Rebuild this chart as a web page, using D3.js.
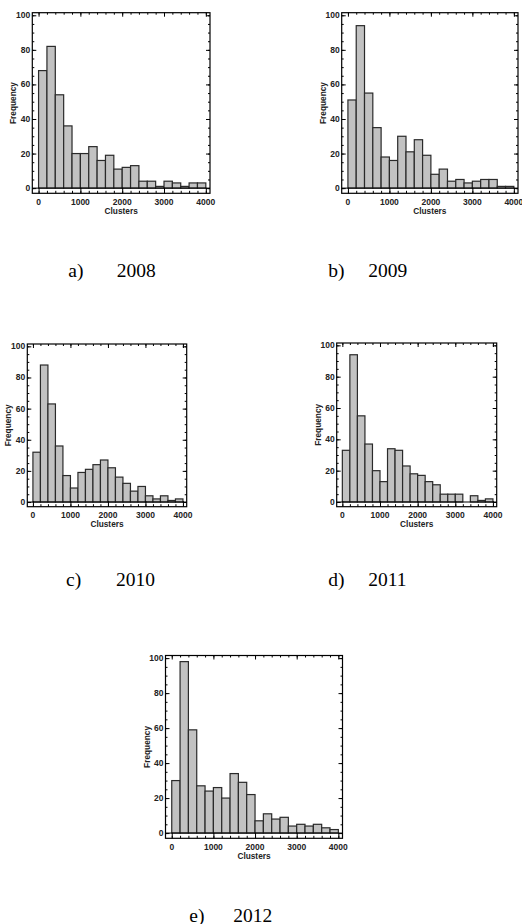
<!DOCTYPE html>
<html>
<head>
<meta charset="utf-8">
<script src="https://cdn.jsdelivr.net/npm/d3@7"></script>
<style>
  html, body { margin: 0; padding: 0; background: #fff; }
  svg { display: block; }
</style>
</head>
<body>
<svg id="chart" width="522" height="924"></svg>
<script>
// ---- data ----
const years = ["2008", "2009", "2010", "2011", "2012"];
const panelLetters = ["a)", "b)", "c)", "d)", "e)"];
const binEdges = [0, 200, 400, 600, 800, 1000, 1200, 1400, 1600, 1800, 2000,
                  2200, 2400, 2600, 2800, 3000, 3200, 3400, 3600, 3800, 4000];
const freq2008 = [68, 82, 54, 36, 20, 20, 24, 16, 19, 11, 12, 13, 4, 4, 1, 4, 3, 1, 3, 3];
const freq2009 = [51, 94, 55, 35, 18, 16, 30, 21, 28, 19, 8, 11, 4, 5, 3, 4, 5, 5, 1, 1];
const freq2010 = [32, 88, 63, 36, 17, 9, 19, 21, 24, 27, 22, 16, 12, 7, 10, 4, 2, 4, 1, 2];
const freq2011 = [33, 94, 55, 37, 20, 13, 34, 33, 23, 18, 17, 13, 11, 5, 5, 5, 0, 4, 1, 2];
const freq2012 = [30, 98, 59, 27, 24, 26, 20, 34, 29, 22, 7, 11, 8, 9, 4, 5, 4, 5, 3, 2];
const xTicks = [0, 1000, 2000, 3000, 4000];
const yTicks = [0, 20, 40, 60, 80, 100];
const xLabel = "Clusters";
const yLabel = "Frequency";

const series = [freq2008, freq2009, freq2010, freq2011, freq2012];

// ---- layout (frame boxes & caption positions) ----
const frames = [
  { l: 32.3, t: 12.7, r: 210, b: 193.3 },
  { l: 341.7, t: 12.7, r: 518, b: 193.3 },
  { l: 27.3, t: 344, r: 186.7, b: 506.7 },
  { l: 336.7, t: 343, r: 496.7, b: 506.7 },
  { l: 165.5, t: 655.5, r: 342.5, b: 838.3 }
];
const captions = [
  { x: 68.3, yr: 116.7, y: 277.3 },
  { x: 328.3, yr: 368.3, y: 277.3 },
  { x: 66, yr: 116, y: 585.5 },
  { x: 328.3, yr: 368.3, y: 585.5 },
  { x: 189.3, yr: 233.3, y: 921.5 }
];
const xDomain = [-150, 4100];
const yDomain = [-3, 101.5];

const svg = d3.select("#chart");
const sansFont = "'Liberation Sans', Arial, sans-serif";
const serifFont = "'Liberation Serif', 'Times New Roman', serif";

series.forEach((vals, i) => {
  const f = frames[i];
  const x = d3.scaleLinear().domain(xDomain).range([f.l, f.r]);
  const y = d3.scaleLinear().domain(yDomain).range([f.b, f.t]);
  const g = svg.append("g");

  const bars = vals.map((v, j) => ({ x0: binEdges[j], x1: binEdges[j + 1], v }))
                   .filter(d => d.v > 0);

  g.selectAll("rect.bar").data(bars).join("rect")
    .attr("class", "bar")
    .attr("x", d => x(d.x0))
    .attr("y", d => y(d.v))
    .attr("width", d => x(d.x1) - x(d.x0))
    .attr("height", d => y(0) - y(d.v))
    .attr("fill", "#c2c2c2")
    .attr("stroke", "#2a2a2a")
    .attr("stroke-width", 1.2);

  // y = 0 axis line
  g.append("line")
    .attr("x1", f.l).attr("x2", f.r)
    .attr("y1", y(0)).attr("y2", y(0))
    .attr("stroke", "#000").attr("stroke-width", 1);

  // ticks via d3 axes (inward), on all four sides
  const xMinor = binEdges;
  const yMinor = d3.range(0, 101, 5);

  const bottomMaj = d3.axisTop(x).tickValues(xTicks).tickSize(5.5).tickFormat("");
  const bottomMin = d3.axisTop(x).tickValues(xMinor).tickSize(2.5).tickFormat("");
  const topMaj = d3.axisBottom(x).tickValues(xTicks).tickSize(4).tickFormat("");
  const topMin = d3.axisBottom(x).tickValues(xMinor).tickSize(2).tickFormat("");
  const leftMaj = d3.axisRight(y).tickValues(yTicks).tickSize(4).tickFormat("");
  const leftMin = d3.axisRight(y).tickValues(yMinor).tickSize(2).tickFormat("");
  const rightMaj = d3.axisLeft(y).tickValues(yTicks).tickSize(4).tickFormat("");
  const rightMin = d3.axisLeft(y).tickValues(yMinor).tickSize(2).tickFormat("");

  const addAxis = (ax, tx, ty) => {
    const a = g.append("g").attr("transform", `translate(${tx},${ty})`).call(ax);
    a.select(".domain").remove();
    a.selectAll(".tick line").attr("stroke", "#000").attr("stroke-width", 1);
  };
  addAxis(bottomMaj, 0, f.b);
  addAxis(bottomMin, 0, f.b);
  addAxis(topMaj, 0, f.t);
  addAxis(topMin, 0, f.t);
  addAxis(leftMaj, f.l, 0);
  addAxis(leftMin, f.l, 0);
  addAxis(rightMaj, f.r, 0);
  addAxis(rightMin, f.r, 0);

  // frame
  g.append("rect")
    .attr("x", f.l).attr("y", f.t)
    .attr("width", f.r - f.l).attr("height", f.b - f.t)
    .attr("fill", "none").attr("stroke", "#000").attr("stroke-width", 1.2);

  // tick labels
  g.selectAll("text.xt").data(xTicks).join("text")
    .attr("class", "xt")
    .attr("x", d => x(d)).attr("y", f.b + 11.5)
    .attr("text-anchor", "middle")
    .attr("font-family", sansFont).attr("font-weight", "bold")
    .attr("font-size", 8.5).attr("fill", "#222")
    .text(d => d);

  g.selectAll("text.yt").data(yTicks).join("text")
    .attr("class", "yt")
    .attr("x", f.l - 2).attr("y", d => y(d))
    .attr("dy", "0.35em")
    .attr("text-anchor", "end")
    .attr("font-family", sansFont).attr("font-weight", "bold")
    .attr("font-size", 8.5).attr("fill", "#222")
    .text(d => d);

  // axis titles
  g.append("text")
    .attr("x", (f.l + f.r) / 2).attr("y", f.b + 20.5)
    .attr("text-anchor", "middle")
    .attr("font-family", sansFont).attr("font-weight", "bold")
    .attr("font-size", 8.3).attr("fill", "#222")
    .text(xLabel);

  g.append("text")
    .attr("transform", `translate(${f.l - 16},${(f.t + f.b) / 2}) rotate(-90)`)
    .attr("text-anchor", "middle")
    .attr("font-family", sansFont).attr("font-weight", "bold")
    .attr("font-size", 8.3).attr("fill", "#222")
    .text(yLabel);

  // caption
  const c = captions[i];
  svg.append("text")
    .attr("x", c.x).attr("y", c.y)
    .attr("font-family", serifFont).attr("font-size", 19.5).attr("fill", "#000")
    .text(panelLetters[i]);
  svg.append("text")
    .attr("x", c.yr).attr("y", c.y)
    .attr("font-family", serifFont).attr("font-size", 19.5).attr("fill", "#000")
    .text(years[i]);
});
</script>
</body>
</html>
